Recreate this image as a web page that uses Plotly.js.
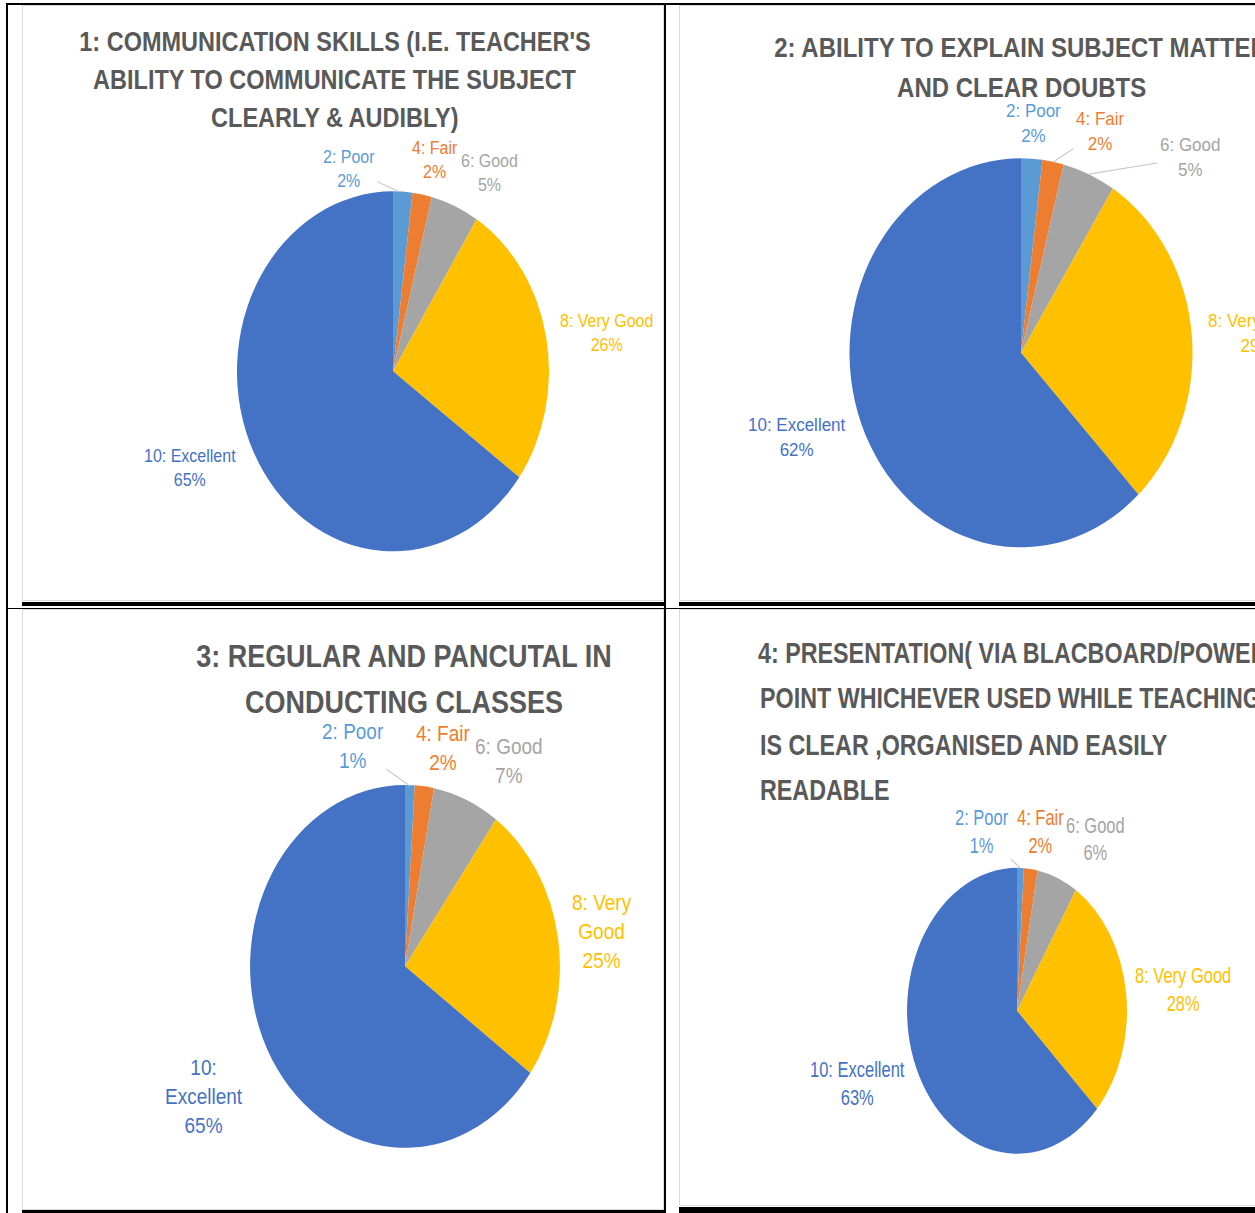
<!DOCTYPE html>
<html>
<head>
<meta charset="utf-8">
<script src="https://cdn.plot.ly/plotly-3.0.1.min.js"></script>
<style>
html,body{margin:0;padding:0;background:#fff;}
body{width:1255px;height:1213px;overflow:hidden;position:relative;}
.line{position:absolute;background:#000;}
.frame{position:absolute;border:1px solid #dadada;box-sizing:border-box;background:#fff;overflow:hidden;}
.chart{position:absolute;left:-1px;top:-1px;transform-origin:0 0;}
</style>
</head>
<body>
<div class="frame" style="left:22px;top:5px;width:642px;height:596px;"><div class="chart" id="c1"></div></div>
<div class="frame" style="left:679px;top:5px;width:600px;height:596px;"><div class="chart" id="c2"></div></div>
<div class="frame" style="left:22px;top:609px;width:642px;height:601px;"><div class="chart" id="c3"></div></div>
<div class="frame" style="left:679px;top:609px;width:600px;height:597px;"><div class="chart" id="c4"></div></div>

<div class="line" style="left:7px;top:3px;width:1248px;height:2px;"></div>
<div class="line" style="left:6px;top:3px;width:2px;height:1210px;"></div>
<div class="line" style="left:664px;top:3px;width:2px;height:1210px;"></div>
<div class="line" style="left:22px;top:602px;width:642px;height:4px;"></div>
<div class="line" style="left:679px;top:602px;width:576px;height:4px;"></div>
<div class="line" style="left:6px;top:608px;width:1249px;height:1px;"></div>
<div class="line" style="left:22px;top:1210px;width:642px;height:3px;"></div>
<div class="line" style="left:679px;top:1207px;width:576px;height:6px;"></div>

<script>
// ---- data ----
const categories = ["2: Poor", "4: Fair", "6: Good", "8: Very Good", "10: Excellent"];
const sliceColors = ["#5B9BD5", "#ED7D31", "#A5A5A5", "#FFC000", "#4472C4"];

const values1 = [2, 2, 5, 26, 65];
const values2 = [2, 2, 5, 29, 62];
const values3 = [1, 2, 7, 25, 65];
const values4 = [1, 2, 6, 28, 63];

const labels3 = ["2: Poor", "4: Fair", "6: Good", "8: Very<br>Good", "10:<br>Excellent"];

const title1 = ["1: COMMUNICATION SKILLS (I.E. TEACHER'S", "ABILITY TO COMMUNICATE THE SUBJECT", "CLEARLY &amp; AUDIBLY)"];
const title2 = ["2: ABILITY TO EXPLAIN SUBJECT MATTER", "AND CLEAR DOUBTS"];
const title3 = ["3: REGULAR AND PANCUTAL IN", "CONDUCTING CLASSES"];
const title4 = ["4: PRESENTATION( VIA BLACBOARD/POWER", "POINT WHICHEVER USED WHILE TEACHING", "IS CLEAR ,ORGANISED AND EASILY", "READABLE"];

// ---- drawing ----
const FONT = "'Liberation Sans', Arial, sans-serif";

function makeChart(id, cfg) {
  const Hs = cfg.H / cfg.k;
  const px = X => (X - cfg.fx) / cfg.W;                       // page x -> paper fraction
  const py = Y => 1 - ((Y - cfg.fy) / cfg.k) / Hs;            // page y -> paper fraction
  const cxRel = cfg.cx - cfg.fx, cyU = (cfg.cy - cfg.fy) / cfg.k, r = cfg.r;
  const el = document.getElementById(id);
  el.style.width = cfg.W + "px";
  el.style.height = Hs + "px";
  el.style.transform = "scaleY(" + cfg.k + ")";

  const trace = {
    type: "pie",
    labels: categories,
    values: cfg.values,
    textinfo: "none",
    sort: false,
    direction: "clockwise",
    rotation: 0,
    automargin: false,
    hoverinfo: "none",
    marker: {colors: sliceColors, line: {width: 0}},
    domain: {
      x: [(cxRel - r) / cfg.W, (cxRel + r) / cfg.W],
      y: [1 - (cyU + r) / Hs, 1 - (cyU - r) / Hs]
    }
  };

  const titleFont = {family: FONT, size: cfg.titleSize, color: "#595959", weight: "bold"};
  const annotations = [];
  // remaining title lines
  for (let i = 1; i < cfg.title.length; i++) {
    annotations.push({
      text: cfg.title[i], showarrow: false,
      xref: "paper", yref: "paper",
      x: px(cfg.tx), xanchor: cfg.anchor,
      y: py(cfg.tys[i]), yanchor: "middle",
      font: titleFont
    });
  }
  // data labels
  cfg.values.forEach((v, i) => {
    const pos = cfg.labelPos[i];
    const a = {
      text: cfg.text[i] + "<br>" + v + "%",
      xref: "paper", yref: "paper",
      xanchor: "center", yanchor: "middle",
      font: {family: FONT, size: cfg.labelSize, color: sliceColors[i]},
      align: "center"
    };
    const tip = cfg.leaders && cfg.leaders[i];
    if (tip) {
      a.showarrow = true; a.arrowhead = 0; a.arrowwidth = 1; a.arrowcolor = "#c8c8c8";
      a.x = px(tip[0]); a.y = py(tip[1]);
      a.ax = pos[0] - tip[0]; a.ay = (pos[1] - tip[1]) / cfg.k;
      a.standoff = 0; a.startstandoff = 1;
    } else {
      a.showarrow = false;
      a.x = px(pos[0]); a.y = py(pos[1]);
    }
    annotations.push(a);
  });

  const layout = {
    width: cfg.W,
    height: Hs,
    margin: {l: 0, r: 0, t: 0, b: 0},
    paper_bgcolor: "rgba(0,0,0,0)",
    plot_bgcolor: "rgba(0,0,0,0)",
    showlegend: false,
    title: {
      text: cfg.title[0],
      xref: "paper", yref: "paper",
      x: px(cfg.tx), xanchor: cfg.anchor,
      y: py(cfg.tys[0]), yanchor: "middle",
      font: titleFont
    },
    annotations: annotations
  };
  Plotly.newPlot(el, [trace], layout, {staticPlot: true, displayModeBar: false});
}

makeChart("c1", {fx: 22, fy: 5, W: 642, H: 596, k: 180 / 156, cx: 393, cy: 371, r: 156,
  values: values1, text: categories, labelSize: 16,
  labelPos: [[349, 168.5], [435, 160], [489, 172], [606, 332], [190, 467]],
  leaders: [[398, 191], null, null, null, null],
  title: title1, titleSize: 23.5, tx: 335, tys: [41.5, 80, 118.5], anchor: "center"});

makeChart("c2", {fx: 679, fy: 5, W: 684, H: 596, k: 194.5 / 171.5, cx: 1021, cy: 352.5, r: 171.5,
  values: values2, text: categories, labelSize: 17,
  labelPos: [[1033, 123.5], [1100, 131], [1190, 157.5], [1257, 332.5], [797, 437.5]],
  leaders: [null, [1053, 162], [1089, 174], null, null],
  title: title2, titleSize: 24, tx: 1021, tys: [47, 87], anchor: "center"});

makeChart("c3", {fx: 22, fy: 609, W: 642, H: 601, k: 181.5 / 155, cx: 405, cy: 966.5, r: 155,
  values: values3, text: labels3, labelSize: 19,
  labelPos: [[353, 746], [443, 748], [509, 761], [602, 931], [204, 1096]],
  leaders: [[410, 786], null, null, null, null],
  title: title3, titleSize: 27, tx: 404, tys: [656, 703], anchor: "center"});

makeChart("c4", {fx: 679, fy: 609, W: 684, H: 597, k: 143 / 110, cx: 1017, cy: 1011, r: 110,
  values: values4, text: categories, labelSize: 16.5,
  labelPos: [[982, 831], [1040, 831], [1095, 839], [1183, 989], [857, 1083.5]],
  leaders: [[1020, 868], null, null, null, null],
  title: title4, titleSize: 23.3, tx: 758, tys: [652, 698, 744, 790], anchor: "left"});
</script>
</body>
</html>
